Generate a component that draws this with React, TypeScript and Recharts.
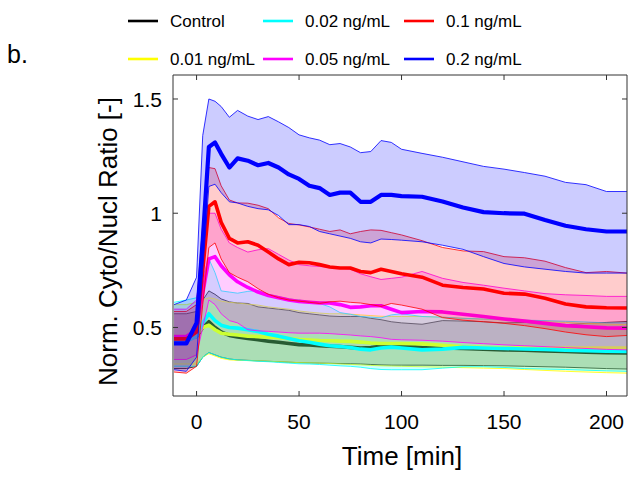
import React from 'react';
import { ComposedChart, Area, Line, XAxis, YAxis } from 'recharts';

const TIME = [-11, -5, 0, 3, 6, 9, 12, 16, 20, 25, 30, 35, 40, 45, 50, 55, 60, 65, 70, 75, 80, 85, 90, 95, 100, 110, 120, 130, 140, 150, 160, 170, 180, 190, 200, 210];

const CTRL_LO = [0.32,0.32,0.33,0.37,0.39,0.38,0.37,0.362,0.358,0.356,0.354,0.352,0.35,0.348,0.346,0.345,0.344,0.343,0.342,0.341,0.34,0.338,0.336,0.335,0.335,0.335,0.334,0.334,0.333,0.332,0.33,0.328,0.326,0.323,0.32,0.318];
const CTRL_MEAN = [0.45,0.45,0.46,0.50,0.525,0.50,0.48,0.465,0.458,0.452,0.446,0.44,0.435,0.43,0.425,0.423,0.42,0.418,0.416,0.413,0.41,0.412,0.418,0.422,0.422,0.412,0.41,0.408,0.405,0.402,0.40,0.397,0.395,0.392,0.39,0.388];
const CTRL_HI = [0.56,0.56,0.57,0.62,0.66,0.645,0.625,0.612,0.607,0.605,0.59,0.585,0.58,0.575,0.565,0.56,0.555,0.55,0.548,0.548,0.548,0.54,0.534,0.525,0.52,0.514,0.53,0.528,0.525,0.52,0.522,0.518,0.512,0.518,0.522,0.526];

const Y01_LO = [0.34,0.34,0.34,0.37,0.385,0.375,0.365,0.358,0.356,0.355,0.354,0.352,0.35,0.348,0.346,0.345,0.344,0.342,0.34,0.338,0.336,0.334,0.332,0.331,0.33,0.328,0.326,0.324,0.322,0.32,0.316,0.312,0.308,0.305,0.302,0.30];
const Y01_MEAN = [0.46,0.46,0.47,0.50,0.51,0.49,0.475,0.47,0.467,0.462,0.46,0.457,0.455,0.452,0.447,0.445,0.443,0.442,0.44,0.439,0.436,0.432,0.43,0.43,0.43,0.428,0.422,0.415,0.412,0.41,0.41,0.41,0.41,0.41,0.41,0.41];
const Y01_HI = [0.60,0.60,0.61,0.62,0.63,0.625,0.615,0.61,0.607,0.602,0.598,0.59,0.585,0.58,0.572,0.567,0.563,0.56,0.56,0.558,0.555,0.552,0.549,0.548,0.548,0.548,0.545,0.54,0.536,0.533,0.53,0.526,0.522,0.518,0.515,0.512];

const C02_LO = [0.33,0.33,0.33,0.37,0.39,0.38,0.37,0.362,0.358,0.355,0.352,0.35,0.347,0.344,0.341,0.34,0.338,0.335,0.332,0.33,0.326,0.32,0.316,0.315,0.315,0.315,0.322,0.328,0.328,0.325,0.32,0.318,0.316,0.313,0.31,0.308];
const C02_MEAN = [0.44,0.44,0.46,0.52,0.56,0.53,0.51,0.50,0.497,0.49,0.482,0.47,0.462,0.452,0.442,0.435,0.427,0.42,0.417,0.412,0.405,0.402,0.41,0.414,0.41,0.402,0.405,0.413,0.41,0.408,0.406,0.404,0.40,0.398,0.396,0.395];
const C02_HI = [0.61,0.62,0.63,0.72,0.80,0.74,0.66,0.655,0.65,0.658,0.662,0.645,0.635,0.625,0.62,0.612,0.605,0.59,0.565,0.558,0.548,0.545,0.542,0.555,0.56,0.548,0.545,0.54,0.537,0.535,0.532,0.53,0.527,0.524,0.52,0.52];

const M05_LO = [0.36,0.36,0.38,0.50,0.62,0.60,0.56,0.53,0.52,0.49,0.485,0.483,0.48,0.477,0.475,0.475,0.475,0.473,0.47,0.467,0.463,0.46,0.455,0.448,0.446,0.444,0.44,0.434,0.429,0.424,0.42,0.416,0.412,0.408,0.404,0.402];
const M05_MEAN = [0.46,0.46,0.49,0.65,0.80,0.81,0.77,0.73,0.70,0.675,0.655,0.64,0.63,0.62,0.614,0.61,0.607,0.607,0.60,0.588,0.59,0.595,0.595,0.58,0.565,0.57,0.568,0.558,0.548,0.537,0.528,0.518,0.508,0.503,0.498,0.497];
const M05_HI = [0.58,0.58,0.62,0.85,1.0,1.0,0.93,0.87,0.85,0.83,0.84,0.845,0.82,0.795,0.775,0.77,0.767,0.763,0.76,0.755,0.735,0.722,0.71,0.715,0.72,0.745,0.715,0.697,0.685,0.672,0.66,0.648,0.643,0.64,0.636,0.636];

const R1_LO = [0.305,0.30,0.33,0.60,0.85,0.87,0.80,0.74,0.72,0.70,0.67,0.645,0.63,0.62,0.615,0.61,0.605,0.612,0.615,0.61,0.607,0.60,0.592,0.605,0.598,0.58,0.543,0.532,0.525,0.518,0.508,0.495,0.48,0.468,0.46,0.465];
const R1_MEAN = [0.45,0.45,0.48,0.75,1.03,1.05,0.96,0.89,0.87,0.875,0.86,0.83,0.80,0.775,0.785,0.783,0.775,0.765,0.76,0.76,0.745,0.74,0.755,0.745,0.735,0.72,0.685,0.675,0.668,0.65,0.646,0.628,0.603,0.59,0.586,0.585];
const R1_HI = [0.57,0.57,0.60,0.95,1.20,1.195,1.12,1.058,1.045,1.044,1.035,1.02,0.98,0.955,0.949,0.94,0.93,0.92,0.927,0.91,0.92,0.927,0.925,0.915,0.905,0.88,0.85,0.835,0.832,0.81,0.805,0.79,0.762,0.74,0.745,0.738];

const B2_LO = [0.315,0.308,0.37,0.75,1.117,1.127,1.09,1.05,1.045,1.03,1.02,1.015,0.99,0.95,0.95,0.942,0.92,0.91,0.90,0.89,0.875,0.87,0.887,0.885,0.882,0.875,0.86,0.842,0.81,0.78,0.765,0.755,0.745,0.738,0.738,0.738];
const B2_MEAN = [0.43,0.43,0.52,0.88,1.29,1.31,1.26,1.20,1.24,1.23,1.21,1.22,1.20,1.17,1.15,1.12,1.11,1.08,1.09,1.09,1.05,1.05,1.08,1.08,1.075,1.072,1.051,1.025,1.005,1.0,0.998,0.97,0.945,0.93,0.92,0.92];
const B2_HI = [0.60,0.62,0.72,1.34,1.50,1.49,1.467,1.42,1.45,1.425,1.41,1.423,1.40,1.375,1.343,1.33,1.32,1.30,1.305,1.29,1.265,1.27,1.318,1.31,1.28,1.262,1.245,1.225,1.205,1.193,1.178,1.162,1.135,1.125,1.095,1.095];

const X_TICKS = [0, 50, 100, 150, 200];
const Y_TICKS = [0.5, 1, 1.5];
const Y_TICK_LABELS = ['0.5', '1', '1.5'];

const SERIES = [
  { key: 'ctrl', name: 'Control', color: '#000000', lo: CTRL_LO, mean: CTRL_MEAN, hi: CTRL_HI },
  { key: 'c001', name: '0.01 ng/mL', color: '#FFFF00', lo: Y01_LO, mean: Y01_MEAN, hi: Y01_HI },
  { key: 'c002', name: '0.02 ng/mL', color: '#00FFFF', lo: C02_LO, mean: C02_MEAN, hi: C02_HI },
  { key: 'c005', name: '0.05 ng/mL', color: '#FF00FF', lo: M05_LO, mean: M05_MEAN, hi: M05_HI },
  { key: 'c01', name: '0.1 ng/mL', color: '#FF0000', lo: R1_LO, mean: R1_MEAN, hi: R1_HI },
  { key: 'c02', name: '0.2 ng/mL', color: '#0000FF', lo: B2_LO, mean: B2_MEAN, hi: B2_HI },
];

const LEGEND_ORDER = [
  ['ctrl', 'c002', 'c01'],
  ['c001', 'c005', 'c02'],
];

const data = TIME.map((t, i) => {
  const row: any = { t };
  SERIES.forEach((s) => {
    row[s.key + 'Band'] = [s.lo[i], s.hi[i]];
    row[s.key + 'Mean'] = s.mean[i];
  });
  return row;
});

const FONT = '"Liberation Sans", Arial, Helvetica, sans-serif';
const AX = '#333333';
const X_DOMAIN: [number, number] = [-11.5, 210];
const Y_DOMAIN: [number, number] = [0.2, 1.605];

const BottomTick = (p: any) => (
  <g>
    <line x1={p.x} x2={p.x} y1={p.y} y2={p.y - 5} stroke={AX} strokeWidth={1} />
    <text x={p.x} y={p.y + 33} textAnchor="middle" fontSize={21} fill="#000" fontFamily={FONT}>
      {p.payload.value}
    </text>
  </g>
);
const LeftTick = (p: any) => {
  const idx = Y_TICKS.indexOf(p.payload.value);
  return (
    <g>
      <line x1={p.x} x2={p.x + 5} y1={p.y} y2={p.y} stroke={AX} strokeWidth={1} />
      <text x={p.x - 11} y={p.y} dy="0.36em" textAnchor="end" fontSize={21} fill="#000" fontFamily={FONT}>
        {idx >= 0 ? Y_TICK_LABELS[idx] : p.payload.value}
      </text>
    </g>
  );
};
const TopTick = (p: any) => (
  <line x1={p.x} x2={p.x} y1={p.y} y2={p.y + 5} stroke={AX} strokeWidth={1} />
);
const RightTick = (p: any) => (
  <line x1={p.x} x2={p.x - 5} y1={p.y} y2={p.y} stroke={AX} strokeWidth={1} />
);

const XLabel = (p: any) => {
  const vb = p.viewBox || { x: 173, y: 396, width: 454, height: 81 };
  return (
    <text x={vb.x + vb.width / 2 + 2} y={vb.y + 69} textAnchor="middle" fontSize={26} fill="#000" fontFamily={FONT}>
      Time [min]
    </text>
  );
};
const YLabel = (p: any) => {
  const vb = p.viewBox || { x: 0, y: 75, width: 173, height: 321 };
  const cx = 108;
  const cy = vb.y + vb.height / 2 + 6;
  return (
    <text x={cx} y={cy} dy="0.36em" transform={`rotate(-90 ${cx} ${cy})`} textAnchor="middle" fontSize={26} fill="#000" fontFamily={FONT}>
      Norm. Cyto/Nucl Ratio [-]
    </text>
  );
};

export default function App() {
  const items: any[] = [];
  let z = 101;
  SERIES.forEach((s) => {
    items.push(
      <Area
        key={s.key + 'Band'}
        dataKey={s.key + 'Band'}
        type="linear"
        fill={s.color}
        fillOpacity={0.2}
        stroke={s.color}
        strokeWidth={0.8}
        dot={false}
        activeDot={false}
        isAnimationActive={false}
        zIndex={z++}
      />
    );
    items.push(
      <Line
        key={s.key + 'Mean'}
        dataKey={s.key + 'Mean'}
        type="linear"
        stroke={s.color}
        strokeWidth={s.key === 'c02' ? 4.2 : 3.6}
        strokeLinejoin="round"
        dot={false}
        activeDot={false}
        isAnimationActive={false}
        zIndex={z++}
      />
    );
  });

  const byKey: any = {};
  SERIES.forEach((s) => (byKey[s.key] = s));
  const colX = [128, 263, 404];
  const rowY = [21, 59];

  return (
    <div style={{ position: 'absolute', left: 0, top: 0, width: 643, height: 477, background: '#fff' }}>
      <ComposedChart width={643} height={477} data={data} margin={{ top: 74, right: 0, bottom: 0, left: 0 }}>
        <XAxis
          dataKey="t"
          type="number"
          domain={X_DOMAIN}
          allowDataOverflow
          ticks={X_TICKS}
          interval={0}
          height={81}
          tickSize={0}
          tickMargin={0}
          tickLine={false}
          axisLine={{ stroke: AX, strokeWidth: 1 }}
          tick={BottomTick}
          label={{ content: XLabel }}
        />
        <XAxis
          xAxisId="top"
          orientation="top"
          dataKey="t"
          type="number"
          domain={X_DOMAIN}
          allowDataOverflow
          ticks={X_TICKS}
          interval={0}
          height={1}
          tickSize={0}
          tickMargin={0}
          tickLine={false}
          axisLine={{ stroke: AX, strokeWidth: 1 }}
          tick={TopTick}
        />
        <YAxis
          type="number"
          domain={Y_DOMAIN}
          allowDataOverflow
          ticks={Y_TICKS}
          interval={0}
          width={173}
          tickSize={0}
          tickMargin={0}
          tickLine={false}
          axisLine={{ stroke: AX, strokeWidth: 1 }}
          tick={LeftTick}
          label={{ content: YLabel }}
        />
        <YAxis
          yAxisId="right"
          orientation="right"
          type="number"
          domain={Y_DOMAIN}
          allowDataOverflow
          ticks={Y_TICKS}
          interval={0}
          width={16}
          tickSize={0}
          tickMargin={0}
          tickLine={false}
          axisLine={{ stroke: AX, strokeWidth: 1 }}
          tick={RightTick}
        />
        {items}
      </ComposedChart>
      <svg width={643} height={477} style={{ position: 'absolute', left: 0, top: 0, pointerEvents: 'none' }}>
        <text x={7} y={63} fontSize={25} fill="#000" fontFamily={FONT}>b.</text>
        {LEGEND_ORDER.map((row, r) =>
          row.map((k, c) => (
            <g key={k}>
              <line x1={colX[c]} x2={colX[c] + 30} y1={rowY[r]} y2={rowY[r]} stroke={byKey[k].color} strokeWidth={2.6} />
              <text x={colX[c] + 42} y={rowY[r] + 6} fontSize={17} fill="#000" fontFamily={FONT}>
                {byKey[k].name}
              </text>
            </g>
          ))
        )}
      </svg>
    </div>
  );
}
